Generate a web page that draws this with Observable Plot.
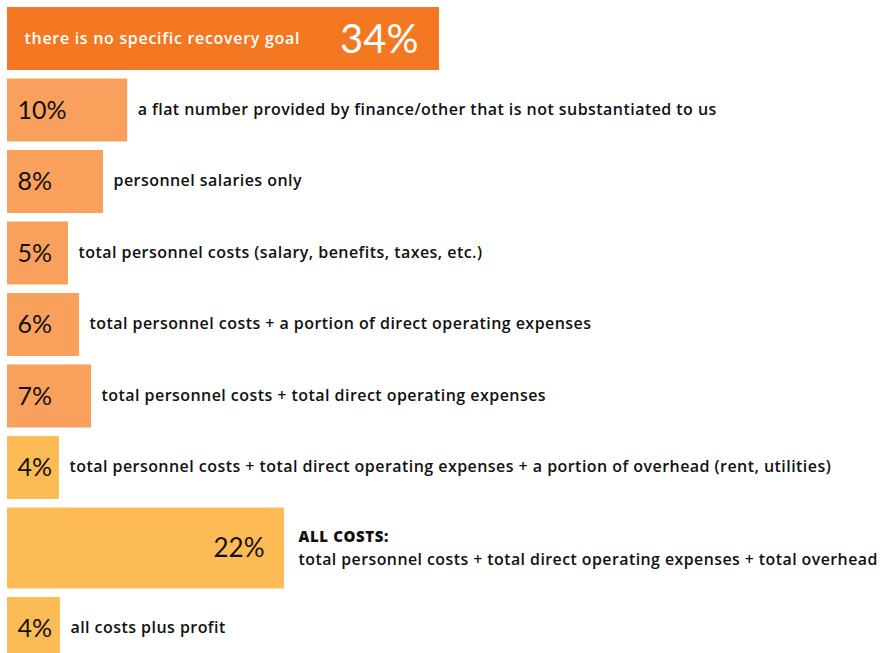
<!DOCTYPE html>
<html>
<head>
<meta charset="utf-8">
<script src="https://cdn.jsdelivr.net/npm/d3@7"></script>
<script src="https://cdn.jsdelivr.net/npm/@observablehq/plot@0.6"></script>
<style>
  html, body { margin: 0; padding: 0; background: #ffffff; }
  #chart svg { display: block; }
</style>
</head>
<body>
<div id="chart"></div>
<script>
// ---- data ----
const descriptions = [
  "there is no specific recovery goal",
  "a flat number provided by finance/other that is not substantiated to us",
  "personnel salaries only",
  "total personnel costs (salary, benefits, taxes, etc.)",
  "total personnel costs + a portion of direct operating expenses",
  "total personnel costs + total direct operating expenses",
  "total personnel costs + total direct operating expenses + a portion of overhead (rent, utilities)",
  "total personnel costs + total direct operating expenses + total overhead",
  "all costs plus profit"
];
const values = [34.34, 9.55, 7.63, 4.85, 5.72, 6.68, 4.13, 22.02, 4.21];
const tiers = ["none", "partial", "partial", "partial", "partial", "partial", "full", "full", "full"];
const headings = ["", "", "", "", "", "", "", "ALL COSTS:", ""];

// ---- layout (not data) ----
const W = 882, H = 653;
const top0 = 7, gap = 8.5, barH = 63, bigBarH = 81;
let cursor = top0;
const data = descriptions.map((d, i) => {
  const h = headings[i] ? bigBarH : barH;
  const row = {
    i, desc: d, value: values[i], tier: tiers[i], heading: headings[i],
    label: Math.round(values[i]) + "%",
    y1: cursor, y2: cursor + h, ym: cursor + h / 2
  };
  cursor += h + gap;
  return row;
});

const descFont = "'Open Sans', sans-serif";
const numFont = "Lato, sans-serif";

const plot = Plot.plot({
  width: W,
  height: H,
  margin: 0,
  style: { background: "#ffffff", fontFamily: descFont },
  x: { domain: [0, 34.34], range: [7, 439], axis: null },
  y: { type: "linear", domain: [0, H], range: [0, H], axis: null },
  color: { type: "ordinal", domain: ["none", "partial", "full"], range: ["#f47722", "#f9a15c", "#fdbb55"] },
  marks: [
    Plot.rect(data, { x1: 0, x2: "value", y1: "y1", y2: "y2", fill: "tier", inset: 0 }),
    // big bar: description inside, white
    Plot.text(data.filter(d => d.i === 0), {
      x: 0, y: "ym", text: "desc", textAnchor: "start", dx: 17, dy: 0,
      fill: "#ffffff", fontSize: 16, fontWeight: 600, fontFamily: descFont
    }),
    Plot.text(data.filter(d => d.i === 0), {
      x: "value", y: "ym", text: "label", textAnchor: "end", dx: -21, dy: 1,
      fill: "#ffffff", fontSize: 40, fontFamily: numFont
    }),
    // 22% label right aligned inside bar
    Plot.text(data.filter(d => d.heading), {
      x: "value", y: "ym", text: "label", textAnchor: "end", dx: -20,
      fill: "#111111", fontSize: 26, fontFamily: numFont
    }),
    // other labels at left of bar
    Plot.text(data.filter(d => d.i !== 0 && !d.heading), {
      x: 0, y: "ym", text: "label", textAnchor: "start", dx: 10,
      fill: "#111111", fontSize: 25, fontFamily: numFont
    }),
    // descriptions after the bar
    Plot.text(data.filter(d => d.i !== 0 && !d.heading), {
      x: "value", y: "ym", text: "desc", textAnchor: "start", dx: 10, dy: -1,
      fill: "#111111", fontSize: 16, fontWeight: 600, fontFamily: descFont
    }),
    Plot.text(data.filter(d => d.heading), {
      x: "value", y: "ym", text: "heading", textAnchor: "start", dx: 14, dy: -11,
      fill: "#111111", fontSize: 15, fontWeight: 800, fontFamily: descFont
    }),
    Plot.text(data.filter(d => d.heading), {
      x: "value", y: "ym", text: "desc", textAnchor: "start", dx: 14, dy: 11,
      fill: "#111111", fontSize: 15.9, fontWeight: 600, fontFamily: descFont
    })
  ]
});
// widen the description lettering to match the reference typeface
plot.querySelectorAll("g").forEach(g => {
  const fw = g.getAttribute("font-weight");
  const fs = g.getAttribute("font-size");
  const fill = (g.getAttribute("fill") || "").toLowerCase();
  if (fw === "600") {
    if (fill === "#ffffff") g.setAttribute("letter-spacing", "0.7");
    else if (fs === "15.9") g.setAttribute("letter-spacing", "0.45");
    else g.setAttribute("letter-spacing", "0.45");
  } else if (fw === "800") g.setAttribute("letter-spacing", "0.6");
});
document.getElementById("chart").appendChild(plot);
</script>
</body>
</html>
